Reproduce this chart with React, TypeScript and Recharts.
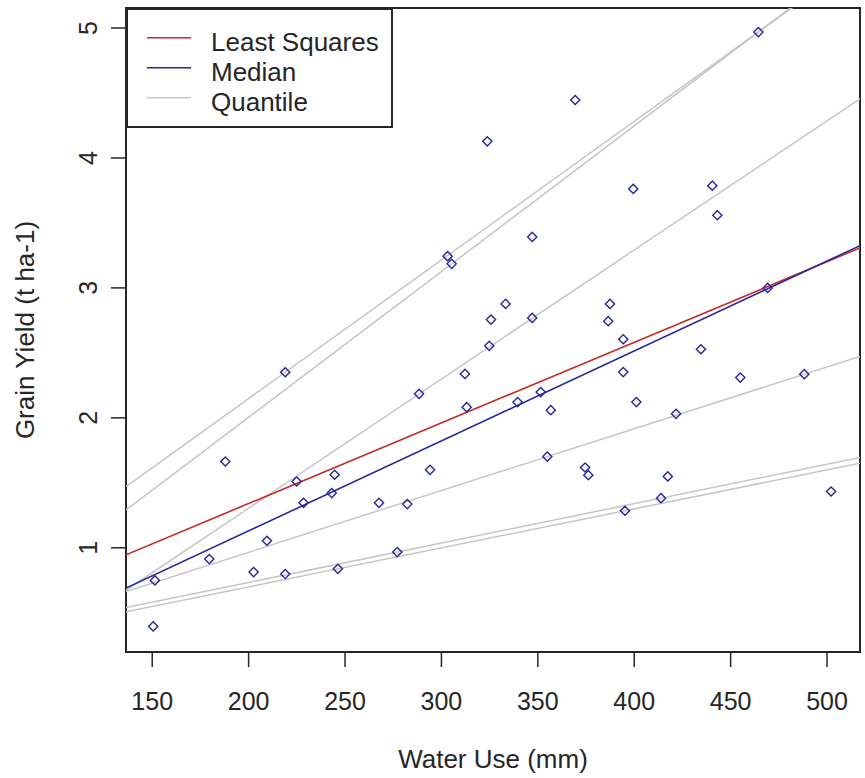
import React from 'react';
import {
  ComposedChart,
  XAxis,
  YAxis,
  Scatter,
  Line,
  ReferenceArea,
  Legend,
  Label,
} from 'recharts';

// ---- data ----
const waterUse = [
  219.0, 187.9, 224.9, 244.6, 243.1, 228.5, 267.6, 209.5, 179.6, 202.6,
  219.0, 246.3, 151.4, 150.5, 324.8, 312.2, 288.4, 313.1, 339.5, 351.5,
  356.7, 394.3, 394.3, 294.1, 282.3, 354.9, 374.5, 376.2, 277.1, 434.6,
  455.0, 488.2, 401.1, 421.7, 417.4, 413.9, 395.2, 502.1, 369.4, 323.8,
  347.1, 303.2, 305.3, 333.3, 325.7, 347.1, 387.4, 386.5, 464.4, 399.5,
  440.5, 443.1, 469.2,
];
const grainYield = [
  2.351, 1.664, 1.51, 1.562, 1.421, 1.346, 1.346, 1.054, 0.913, 0.813,
  0.798, 0.838, 0.749, 0.395, 2.554, 2.338, 2.185, 2.082, 2.121, 2.198,
  2.059, 2.605, 2.352, 1.6, 1.336, 1.702, 1.618, 1.559, 0.967, 2.528,
  2.31, 2.336, 2.121, 2.031, 1.549, 1.382, 1.285, 1.433, 4.446, 4.128,
  3.392, 3.244, 3.185, 2.877, 2.756, 2.769, 2.877, 2.744, 4.969, 3.762,
  3.787, 3.559, 3.0,
];

const X_DOMAIN = [136.4, 517.1];
const Y_DOMAIN = [0.198, 5.154];
const xTicks = [150, 200, 250, 300, 350, 400, 450, 500];
const yTicks = [1, 2, 3, 4, 5];

// fitted line values at the left and right plot edges
const leastSquaresY = [0.946, 3.308];
const medianY = [0.69, 3.325];
const quantileY = [
  [1.47, 5.531],
  [1.291, 5.56],
  [0.673, 4.455],
  [0.663, 2.473],
  [0.54, 1.695],
  [0.508, 1.651],
];

const legendLabels = ['Least Squares', 'Median', 'Quantile'];

const RED = '#c8282a';
const BLUE = '#2626a0';
const GRAY = '#c6c6c6';
const INK = '#262626';
const FONT = '"Liberation Sans", Arial, sans-serif';
const FS = 25;
const FS_LABEL = 26;

const points = waterUse.map((x, i) => ({ x, y: grainYield[i] }));
const edgeLine = (ys: number[]) => [
  { x: X_DOMAIN[0], y: ys[0] },
  { x: X_DOMAIN[1], y: ys[1] },
];

const Diamond = (props: any) => {
  const { cx, cy } = props;
  if (cx == null || cy == null) return null;
  const r = 4.6;
  return (
    <path
      d={`M${cx},${cy - r}L${cx + r},${cy}L${cx},${cy + r}L${cx - r},${cy}Z`}
      fill="none"
      stroke={BLUE}
      strokeWidth={1.4}
    />
  );
};

const XTick = (props: any) => {
  const { x, payload } = props;
  return (
    <text x={x} y={710} textAnchor="middle" fontSize={FS} fontFamily={FONT} fill={INK}>
      {payload.value}
    </text>
  );
};

const YTick = (props: any) => {
  const { y, payload } = props;
  return (
    <text
      x={97}
      y={y}
      transform={`rotate(-90 97 ${y})`}
      textAnchor="middle"
      fontSize={FS}
      fontFamily={FONT}
      fill={INK}
    >
      {payload.value}
    </text>
  );
};

const XTitle = (props: any) => {
  const vb = props.viewBox || {};
  const cx = vb.x + vb.width / 2;
  return (
    <text x={cx} y={768} textAnchor="middle" fontSize={FS_LABEL} fontFamily={FONT} fill={INK}>
      Water Use (mm)
    </text>
  );
};

const YTitle = (props: any) => {
  const vb = props.viewBox || {};
  const cy = vb.y + vb.height / 2;
  return (
    <text
      x={34}
      y={cy}
      transform={`rotate(-90 34 ${cy})`}
      textAnchor="middle"
      fontSize={FS_LABEL}
      fontFamily={FONT}
      fill={INK}
    >
      Grain Yield (t ha-1)
    </text>
  );
};

const legendColors = [RED, BLUE, GRAY];

const LegendBox = () => (
  <svg width={268} height={121} style={{ display: 'block' }}>
    <rect x={1} y={1} width={265} height={118} fill="#fff" stroke={INK} strokeWidth={2} />
    {legendLabels.map((label, i) => {
      const ly = 29.7 + i * 30;
      return (
        <g key={label}>
          <line x1={21} x2={65} y1={ly} y2={ly} stroke={legendColors[i]} strokeWidth={1.5} />
          <text x={85} y={ly + 13} fontSize={FS_LABEL} fontFamily={FONT} fill={INK}>
            {label}
          </text>
        </g>
      );
    })}
  </svg>
);

export default function App() {
  return (
    <div
      style={{
        position: 'absolute',
        left: 0,
        top: 0,
        width: 865,
        height: 778,
        background: '#fff',
      }}
    >
      <ComposedChart
        width={865}
        height={778}
        margin={{ top: 8, right: 5, bottom: 66, left: 66 }}
      >
        <XAxis
          type="number"
          dataKey="x"
          domain={X_DOMAIN}
          ticks={xTicks}
          allowDataOverflow
          height={60}
          axisLine={false}
          tickSize={15}
          tickLine={{ stroke: INK, strokeWidth: 1.5 }}
          tick={<XTick />}
          interval={0}
        >
          <Label content={<XTitle />} />
        </XAxis>
        <YAxis
          type="number"
          dataKey="y"
          domain={Y_DOMAIN}
          ticks={yTicks}
          allowDataOverflow
          width={60}
          axisLine={false}
          tickSize={15}
          tickLine={{ stroke: INK, strokeWidth: 1.5 }}
          tick={<YTick />}
          interval={0}
        >
          <Label content={<YTitle />} />
        </YAxis>
        <Scatter data={points} shape={<Diamond />} isAnimationActive={false} />
        {quantileY.map((ys, i) => (
          <Line
            key={'q' + i}
            data={edgeLine(ys)}
            dataKey="y"
            stroke={GRAY}
            strokeWidth={1.5}
            dot={false}
            activeDot={false}
            isAnimationActive={false}
            legendType="none"
          />
        ))}
        <Line
          data={edgeLine(leastSquaresY)}
          dataKey="y"
          stroke={RED}
          strokeWidth={1.6}
          dot={false}
          activeDot={false}
          isAnimationActive={false}
        />
        <Line
          data={edgeLine(medianY)}
          dataKey="y"
          stroke={BLUE}
          strokeWidth={1.6}
          dot={false}
          activeDot={false}
          isAnimationActive={false}
        />
        <ReferenceArea
          x1={X_DOMAIN[0]}
          x2={X_DOMAIN[1]}
          y1={Y_DOMAIN[0]}
          y2={Y_DOMAIN[1]}
          fill="none"
          fillOpacity={0}
          stroke={INK}
          strokeWidth={2}
          ifOverflow="visible"
        />
        <Legend
          layout="vertical"
          align="center"
          verticalAlign="middle"
          content={<LegendBox />}
          wrapperStyle={{ position: 'absolute', left: 126, top: 8, width: 268, height: 121 }}
        />
      </ComposedChart>
    </div>
  );
}
